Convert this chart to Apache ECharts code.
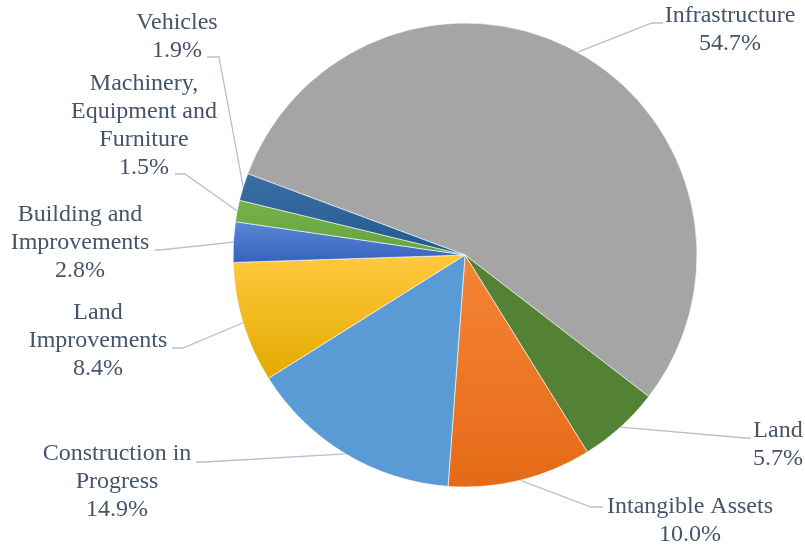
<!DOCTYPE html>
<html>
<head>
<meta charset="utf-8">
<script src="https://cdn.jsdelivr.net/npm/echarts@6/dist/echarts.min.js"></script>
<style>
    html,body{margin:0;padding:0;background:#fff;}
    #main{width:805px;height:546px;}
</style>
</head>
<body>
<div id="main"></div>
<script>
// 数据
var categories=['Infrastructure','Land','Intangible Assets','Construction in\nProgress','Land\nImprovements','Building and\nImprovements','Machinery,\nEquipment and\nFurniture','Vehicles'];
var shares=[54.7,5.7,10.0,14.9,8.4,2.8,1.5,1.9];

// 颜色 (上 -> 下 渐变)
var topColors=['#a5a5a5','#548235','#f58535','#5b9bd5','#ffc93d','#5a87d6','#74b14b','#3c6fa4'];
var bottomColors=['#a5a5a5','#548235','#e56a17','#5b9bd5','#e3aa00','#3662bd','#67a43e','#205a8f'];

// 标签位置 (文字中心, 折点, 终点)
var labelPos=[
    {x:730,y:30,elbow:[652,23],end:[663,23]},
    {x:778,y:445,elbow:[745,438],end:[751,438]},
    {x:690,y:521,elbow:[591,507],end:[603,507]},
    {x:117,y:482,elbow:[205,462],end:[196,462]},
    {x:98,y:341,elbow:[183,348],end:[172,348]},
    {x:80,y:243,elbow:[160,250],end:[155,250]},
    {x:144,y:126,elbow:[185,174],end:[175,174]},
    {x:177,y:37,elbow:[219,57],end:[207,57]}
];

var chart=echarts.init(document.getElementById('main'));

var pieData=[];
for(var i=0;i<categories.length;i++){
    pieData.push({
        name:categories[i],
        value:shares[i],
        itemStyle:{
            color:new echarts.graphic.LinearGradient(0,0,0,1,[
                {offset:0,color:topColors[i]},
                {offset:1,color:bottomColors[i]}
            ])
        }
    });
}

var option={
    animation:false,
    series:[{
        type:'pie',
        center:[465,255],
        radius:232,
        startAngle:159.5,
        clockwise:true,
        avoidLabelOverlap:false,
        itemStyle:{
            borderColor:'#ffffff',
            borderWidth:0.6
        },
        label:{
            show:true,
            position:'outside',
            fontFamily:'Liberation Serif',
            fontSize:24,
            lineHeight:28,
            color:'#44546a',
            align:'center',
            formatter:function (p) {
                return p.name+'\n'+p.value.toFixed(1)+'%';
            }
        },
        labelLine:{
            show:true,
            length:10,
            length2:10,
            lineStyle:{
                color:'#b4c0d2',
                width:1.3
            }
        },
        labelLayout:function (params) {
            var pos=labelPos[params.dataIndex];
            var start=params.labelLinePoints[0];
            return {
                x:pos.x,
                y:pos.y,
                align:'center',
                verticalAlign:'middle',
                labelLinePoints:[start,pos.elbow,pos.end]
            };
        },
        data:pieData
    }]
};

chart.setOption(option);
</script>
</body>
</html>
